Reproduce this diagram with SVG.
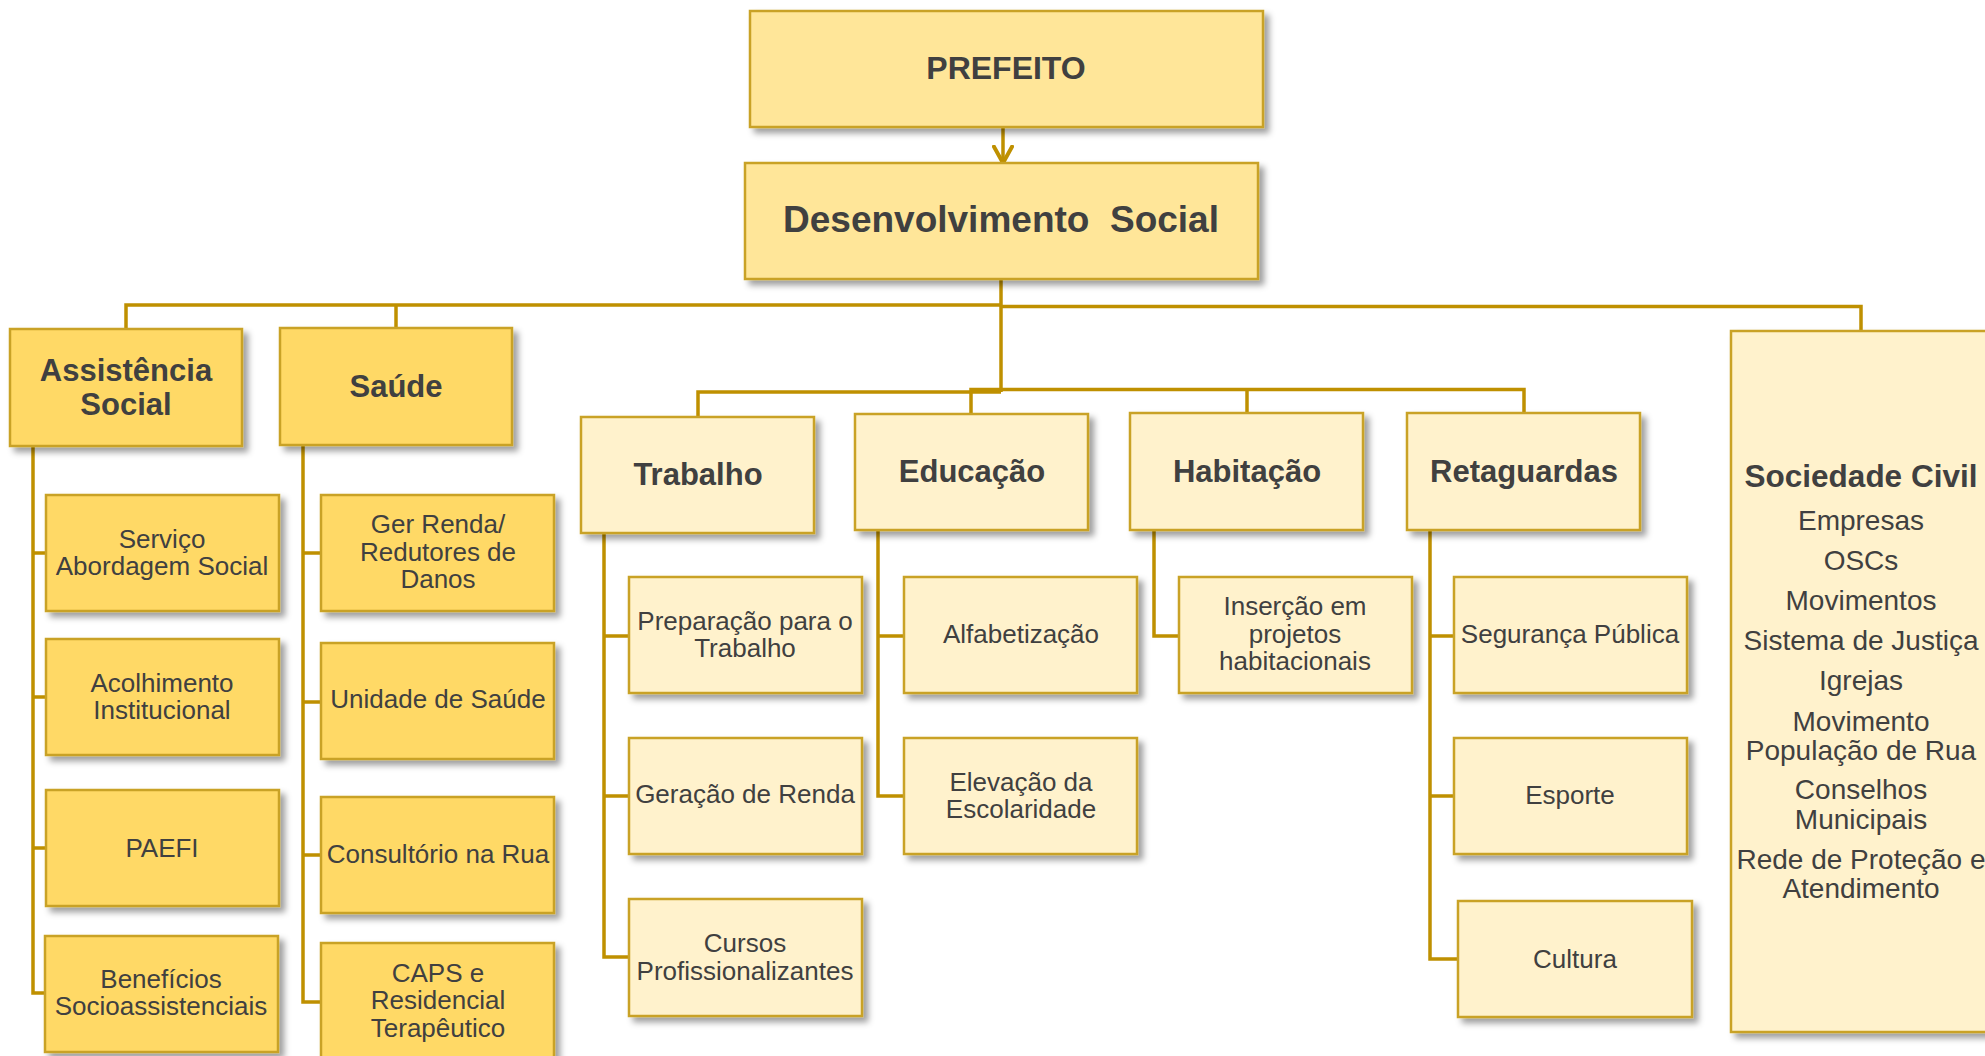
<svg xmlns="http://www.w3.org/2000/svg" width="1985" height="1056" viewBox="0 0 1985 1056">
<defs>
<filter id="sh" x="-10%" y="-10%" width="130%" height="130%">
<feDropShadow dx="5" dy="5" stdDeviation="3" flood-color="#000" flood-opacity="0.38"/>
</filter>
<marker id="arr" viewBox="0 0 20 22" refX="18" refY="11" markerWidth="20" markerHeight="22" markerUnits="userSpaceOnUse" orient="auto">
<path d="M0,1 L18,11 L0,21" fill="none" stroke="#BF9000" stroke-width="4"/>
</marker>
<style>
.b{stroke:#C9A227;stroke-width:2.5;filter:url(#sh)}
.top{fill:#FFE699}
.dk{fill:#FFD966}
.lt{fill:#FFF2CC}
text{font-family:"Liberation Sans",Arial,sans-serif;fill:#404040;text-anchor:middle}
.h{font-weight:bold;font-size:31px}
.c{font-size:26px}
.s{font-size:28px}
.con{fill:none;stroke:#BF9000;stroke-width:3.5}
</style>
</defs>
<rect width="1985" height="1056" fill="#fff"/>

<g id="connectors">
<line class="con" x1="1003" y1="127" x2="1003" y2="163" marker-end="url(#arr)"/>
<path class="con" d="M1001,279 V392"/>
<path class="con" d="M1001,305 H126 V329"/>
<path class="con" d="M396,305 V328"/>
<path class="con" d="M1001,306.5 H1861 V331"/>
<path class="con" d="M1001,392 H698 V417"/>
<path class="con" d="M1001,389.5 H971 V414" stroke="#9C7800"/>
<path class="con" d="M1001,389.5 H1524 V413"/>
<path class="con" d="M1247,389.5 V413"/>
<path class="con" d="M33,446 V993 H46 M33,553 H46 M33,697 H46 M33,848 H46" stroke="#A07C00"/>
<path class="con" d="M303,445 V1002 H321 M303,553 H321 M303,702 H321 M303,855 H321"/>
<path class="con" d="M604,533 V957 H629 M604,636 H629 M604,796 H629"/>
<path class="con" d="M878,530 V796 H904 M878,636 H904"/>
<path class="con" d="M1154,530 V636 H1179"/>
<path class="con" d="M1430,530 V959 H1458 M1430,636 H1454 M1430,796 H1454"/>
</g>

<g id="prefeito"><rect class="b top" x="750" y="11" width="513" height="116"/><text x="1006" y="79" font-size="32" font-weight="bold">PREFEITO</text></g>
<g id="desenvolvimento"><rect class="b top" x="745" y="163" width="513" height="116"/><text x="1001" y="232" font-size="37" font-weight="bold" xml:space="preserve">Desenvolvimento  Social</text></g>

<g id="assistencia"><rect class="b dk" x="10" y="329" width="232" height="117"/><text class="h" x="126" y="381">Assistência</text><text class="h" x="126" y="415">Social</text></g>
<g id="saude"><rect class="b dk" x="280" y="328" width="232" height="117"/><text class="h" x="396" y="397">Saúde</text></g>
<g id="trabalho"><rect class="b lt" x="581" y="417" width="233" height="116"/><text class="h" x="698" y="485">Trabalho</text></g>
<g id="educacao"><rect class="b lt" x="855" y="414" width="233" height="116"/><text class="h" x="972" y="482">Educação</text></g>
<g id="habitacao"><rect class="b lt" x="1130" y="413" width="233" height="117"/><text class="h" x="1247" y="482">Habitação</text></g>
<g id="retaguardas"><rect class="b lt" x="1407" y="413" width="233" height="117"/><text class="h" x="1524" y="482">Retaguardas</text></g>

<g id="sociedade"><rect class="b lt" x="1731" y="331" width="280" height="701"/>
<text x="1861" y="487" font-size="31.5" font-weight="bold">Sociedade Civil</text>
<text class="s" x="1861" y="530">Empresas</text>
<text class="s" x="1861" y="570">OSCs</text>
<text class="s" x="1861" y="610">Movimentos</text>
<text class="s" x="1861" y="650">Sistema de Justiça</text>
<text class="s" x="1861" y="690">Igrejas</text>
<text class="s" x="1861" y="731">Movimento</text>
<text class="s" x="1861" y="760">População de Rua</text>
<text class="s" x="1861" y="799">Conselhos</text>
<text class="s" x="1861" y="829">Municipais</text>
<text class="s" x="1861" y="869">Rede de Proteção e</text>
<text class="s" x="1861" y="898">Atendimento</text>
</g>

<g id="servico"><rect class="b dk" x="46" y="495" width="233" height="116"/><text class="c" x="162" y="548">Serviço</text><text class="c" x="162" y="575">Abordagem Social</text></g>
<g id="acolhimento"><rect class="b dk" x="46" y="639" width="233" height="116"/><text class="c" x="162" y="692">Acolhimento</text><text class="c" x="162" y="719">Institucional</text></g>
<g id="paefi"><rect class="b dk" x="46" y="790" width="233" height="116"/><text class="c" x="162" y="857">PAEFI</text></g>
<g id="beneficios"><rect class="b dk" x="45" y="936" width="233" height="116"/><text class="c" x="161" y="988">Benefícios</text><text class="c" x="161" y="1015">Socioassistenciais</text></g>

<g id="gerrenda"><rect class="b dk" x="321" y="495" width="233" height="116"/><text class="c" x="438" y="533">Ger Renda/</text><text class="c" x="438" y="561">Redutores de</text><text class="c" x="438" y="588">Danos</text></g>
<g id="unidade"><rect class="b dk" x="321" y="643" width="233" height="116"/><text class="c" x="438" y="708">Unidade de Saúde</text></g>
<g id="consultorio"><rect class="b dk" x="321" y="797" width="233" height="116"/><text class="c" x="438" y="863">Consultório na Rua</text></g>
<g id="caps"><rect class="b dk" x="321" y="943" width="233" height="130"/><text class="c" x="438" y="982">CAPS e</text><text class="c" x="438" y="1009">Residencial</text><text class="c" x="438" y="1037">Terapêutico</text></g>

<g id="preparacao"><rect class="b lt" x="629" y="577" width="233" height="116"/><text class="c" x="745" y="630">Preparação para o</text><text class="c" x="745" y="657">Trabalho</text></g>
<g id="geracao"><rect class="b lt" x="629" y="738" width="233" height="116"/><text class="c" x="745" y="803">Geração de Renda</text></g>
<g id="cursos"><rect class="b lt" x="629" y="899" width="233" height="117"/><text class="c" x="745" y="952">Cursos</text><text class="c" x="745" y="980">Profissionalizantes</text></g>

<g id="alfabetizacao"><rect class="b lt" x="904" y="577" width="233" height="116"/><text class="c" x="1021" y="643">Alfabetização</text></g>
<g id="elevacao"><rect class="b lt" x="904" y="738" width="233" height="116"/><text class="c" x="1021" y="791">Elevação da</text><text class="c" x="1021" y="818">Escolaridade</text></g>

<g id="insercao"><rect class="b lt" x="1179" y="577" width="233" height="116"/><text class="c" x="1295" y="615">Inserção em</text><text class="c" x="1295" y="643">projetos</text><text class="c" x="1295" y="670">habitacionais</text></g>

<g id="seguranca"><rect class="b lt" x="1454" y="577" width="233" height="116"/><text class="c" x="1570" y="643">Segurança Pública</text></g>
<g id="esporte"><rect class="b lt" x="1454" y="738" width="233" height="116"/><text class="c" x="1570" y="804">Esporte</text></g>
<g id="cultura"><rect class="b lt" x="1458" y="901" width="234" height="116"/><text class="c" x="1575" y="968">Cultura</text></g>
</svg>
